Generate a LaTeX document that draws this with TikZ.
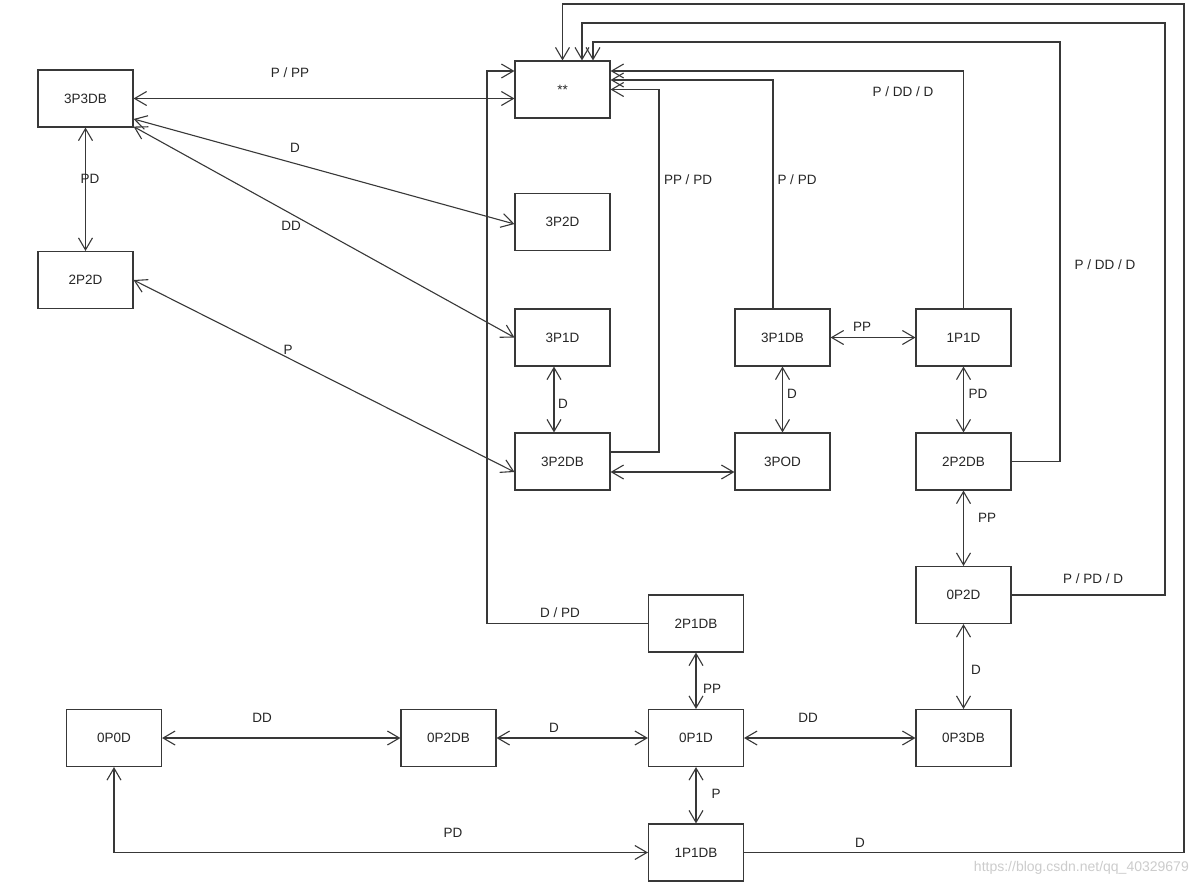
\documentclass[tikz,border=0pt]{standalone}
\usepackage{fontspec}
\setmainfont{Liberation Sans}
\usetikzlibrary{arrows.meta}
\definecolor{lc}{HTML}{383838}
\definecolor{tc}{HTML}{262626}
\begin{document}
\begin{tikzpicture}[x=1pt,y=-1pt,
  font=\fontsize{13.5}{15}\selectfont,
  box/.style={draw=lc, line width=1.1pt, minimum width=95pt, minimum height=57pt, inner sep=0pt, fill=white, text=tc},
  conn/.style={draw=lc, line width=1.1pt},
  bi/.style={conn, {Straight Barb[length=12pt,width=14pt]}-{Straight Barb[length=12pt,width=14pt]}},
  tostar/.style={conn, -{Straight Barb[length=12pt,width=14pt]}},
  lbl/.style={text=tc, inner sep=1pt}]
\fill[white] (0,0) rectangle (1194,887);
\useasboundingbox (0,0) rectangle (1194,887);

% boxes
\node[box] (n3P3DB) at (85.5,98.5) {3P3DB};
\node[box] (n2P2D)  at (85.5,280) {2P2D};
\node[box] (star)   at (562.5,89.5) {**};
\node[box] (n3P2D)  at (562.5,222) {3P2D};
\node[box] (n3P1D)  at (562.5,337.5) {3P1D};
\node[box] (n3P2DB) at (562.5,461.5) {3P2DB};
\node[box] (n3P1DB) at (782.5,337.5) {3P1DB};
\node[box] (n3POD)  at (782.5,461.5) {3POD};
\node[box] (n1P1D)  at (963.5,337.5) {1P1D};
\node[box] (n2P2DB) at (963.5,461.5) {2P2DB};
\node[box] (n0P2D)  at (963.5,595) {0P2D};
\node[box] (n2P1DB) at (696,623.5) {2P1DB};
\node[box] (n0P0D)  at (114,738) {0P0D};
\node[box] (n0P2DB) at (448.5,738) {0P2DB};
\node[box] (n0P1D)  at (696,738) {0P1D};
\node[box] (n0P3DB) at (963.5,738) {0P3DB};
\node[box] (n1P1DB) at (696,852.5) {1P1DB};

% routing corners
\coordinate (c1) at (1184,4);
\coordinate (c2) at (1165,23);
\coordinate (c3) at (1060,42);
\coordinate (c4) at (659,89.5);
\coordinate (c5) at (487,71);

% connectors
\draw[bi] (n3P3DB.east) -- (n3P3DB.east -| star.west);
\draw[bi] (n3P3DB.south) -- (n2P2D.north);
\draw[bi] ([yshift=-20.5pt]n3P3DB.east) -- ([yshift=-2pt]n3P2D.west);
\draw[bi] ([yshift=1pt]n3P3DB.south east) -- (n3P1D.west);
\draw[bi] (n2P2D.east) -- ([yshift=-10.5pt]n3P2DB.west);
\draw[bi] ([xshift=-8.5pt]n3P1D.south) -- ([xshift=-8.5pt]n3P2DB.north);
\draw[bi] ([yshift=-10.5pt]n3P2DB.east) -- ([yshift=-10.5pt]n3POD.west);
\draw[bi] (n3P1DB.south) -- (n3POD.north);
\draw[bi] (n3P1DB.east) -- (n1P1D.west);
\draw[bi] (n1P1D.south) -- (n2P2DB.north);
\draw[bi] (n2P2DB.south) -- (n0P2D.north);
\draw[bi] (n0P2D.south) -- (n0P3DB.north);
\draw[bi] (n2P1DB.south) -- (n0P1D.north);
\draw[bi] (n0P1D.south) -- (n1P1DB.north);
\draw[bi] (n0P0D.east) -- (n0P2DB.west);
\draw[bi] (n0P2DB.east) -- (n0P1D.west);
\draw[bi] (n0P1D.east) -- (n0P3DB.west);
\draw[bi] (n0P0D.south) |- (n1P1DB.west);

\draw[tostar] (n1P1DB.east) -| (c1) -| (star.north);
\draw[tostar] (n0P2D.east) -| (c2) -| ([xshift=19.5pt]star.north);
\draw[tostar] (n2P2DB.east) -| (c3) -| ([xshift=30.5pt]star.north);
\draw[tostar] (n1P1D.north) |- ([yshift=18.5pt]star.east);
\draw[tostar] ([xshift=-9.5pt]n3P1DB.north) |- ([yshift=9.5pt]star.east);
\draw[tostar] ([yshift=9.5pt]n3P2DB.east) -| (c4) -- (star.east);
\draw[tostar] (n2P1DB.west) -| (c5) -- ([yshift=18.5pt]star.west);

% labels
\node[lbl] (l01) at (290,73) {P / PP};
\node[lbl] (l02) at (295,148) {D};
\node[lbl] (l03) at (291,226) {DD};
\node[lbl] (l04) at (288,350) {P};
\node[lbl] (l05) at (90,179) {PD};
\node[lbl] (l06) at (688,180) {PP / PD};
\node[lbl] (l07) at (797,180) {P / PD};
\node[lbl] (l08) at (903,92) {P / DD / D};
\node[lbl] (l09) at (1105,265) {P / DD / D};
\node[lbl] (l10) at (862,327) {PP};
\node[lbl] (l11) at (563,404) {D};
\node[lbl] (l12) at (792,394) {D};
\node[lbl] (l13) at (978,394) {PD};
\node[lbl] (l14) at (987,518) {PP};
\node[lbl] (l15) at (1093,579) {P / PD / D};
\node[lbl] (l16) at (560,613) {D / PD};
\node[lbl] (l17) at (712,689) {PP};
\node[lbl] (l18) at (716,794) {P};
\node[lbl] (l19) at (976,670) {D};
\node[lbl] (l20) at (808,718) {DD};
\node[lbl] (l21) at (554,728) {D};
\node[lbl] (l22) at (860,843) {D};
\node[lbl] (l23) at (262,718) {DD};
\node[lbl] (l24) at (453,833) {PD};

\node[text=black!20, font=\fontsize{14}{16}\selectfont, anchor=east, inner sep=0pt] (wm) at (1189,868) {https://blog.csdn.net/qq\_40329679};
\end{tikzpicture}
\end{document}
